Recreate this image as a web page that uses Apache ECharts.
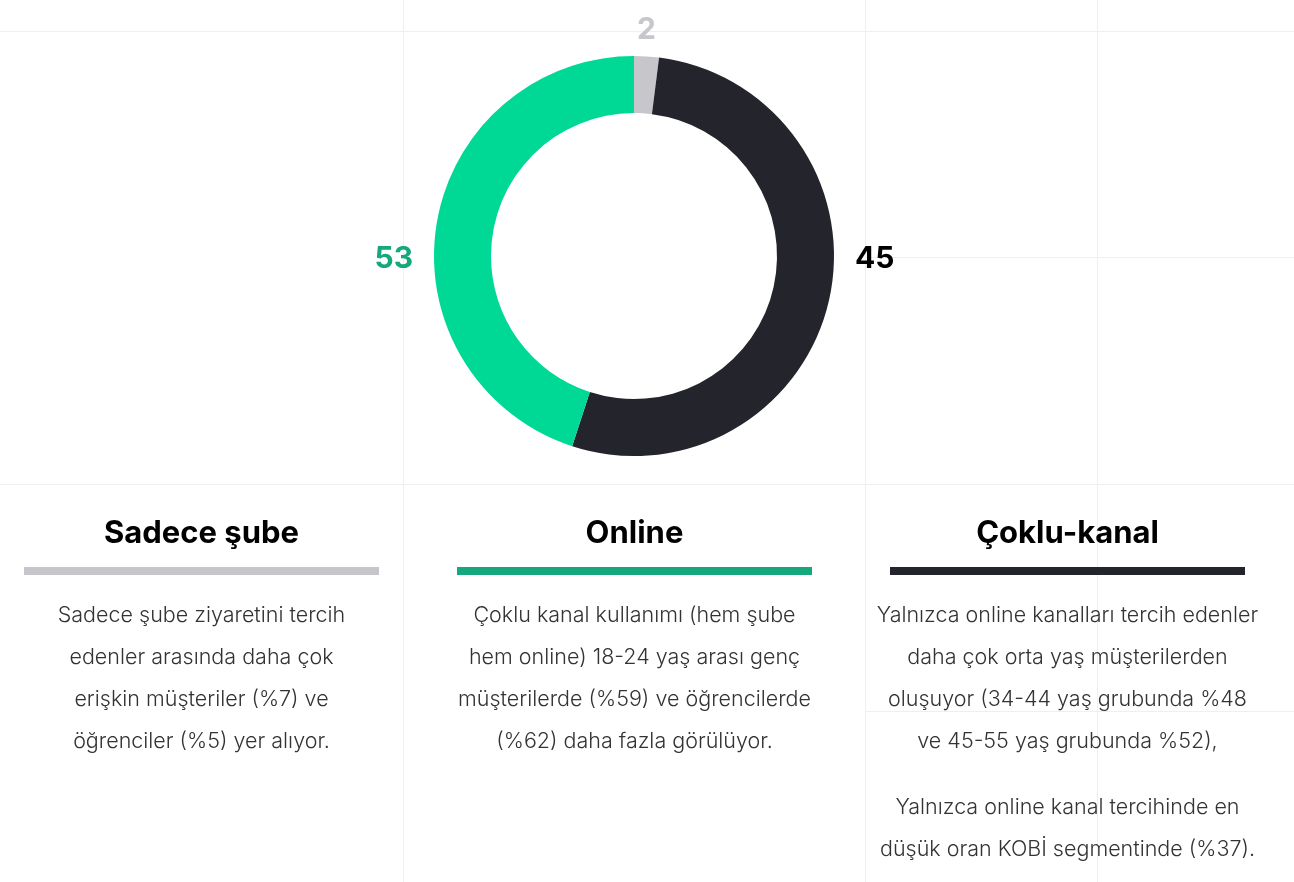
<!DOCTYPE html>
<html>
<head>
<meta charset="utf-8">
<title>Kanal tercihi</title>
<script src="https://cdn.jsdelivr.net/npm/echarts@6/dist/echarts.min.js"></script>
<style>
    html, body { margin: 0; padding: 0; background: #fff; }
    #main { width: 1294px; height: 882px; }
</style>
</head>
<body>
<div id="main"></div>
<script>
// halka dilimleri, saat yönünde tepeden başlayarak (resimde çizildiği gibi)
var sliceNames  = ['Sadece şube', 'Çoklu-kanal', 'Online'];
var sliceValues = [2, 53, 45];
var sliceColors = ['#c7c7cb', '#24242c', '#00d896'];
// halkanın yanında yazan sayılar
var sliceLabels = ['2', '45', '53'];
var labelColors = ['#c7c7cb', '#000000', '#14a87c'];

// alt kısımdaki başlıklar ve açıklamalar
var headings   = ['Sadece şube', 'Online', 'Çoklu-kanal'];
var barColors  = ['#c6c6ca', '#14a87c', '#24242c'];
var notes = [
    ['Sadece şube ziyaretini tercih', 'edenler arasında daha çok', 'erişkin müşteriler (%7) ve', 'öğrenciler (%5) yer alıyor.'],
    ['Çoklu kanal kullanımı (hem şube', 'hem online) 18-24 yaş arası genç', 'müşterilerde (%59) ve öğrencilerde', '(%62) daha fazla görülüyor.'],
    ['Yalnızca online kanalları tercih edenler', 'daha çok orta yaş müşterilerden', 'oluşuyor (34-44 yaş grubunda %48', 've 45-55 yaş grubunda %52),']
];
var extraNote = ['Yalnızca online kanal tercihinde en', 'düşük oran KOBİ segmentinde (%37).'];

var CX = 634, CY = 256;
var colCenters = [201.5, 634.5, 1067.5];
var bodyFont = '300 21.5px Inter';

var myChart = echarts.init(document.getElementById('main'));

// arka plandaki ızgara çizgileri
var gridColor = '#efeff0';
var graphics = [];
function addLine(x1, y1, x2, y2) {
    graphics.push({
        type: 'line', z: 0, silent: true,
        shape: { x1: x1, y1: y1, x2: x2, y2: y2 },
        style: { stroke: gridColor, lineWidth: 1 }
    });
}
addLine(403.5, 0, 403.5, 882);
addLine(865.5, 0, 865.5, 882);
addLine(1097.5, 0, 1097.5, 882);
addLine(0, 31.5, 1294, 31.5);
addLine(865, 257.5, 1294, 257.5);
addLine(0, 484.5, 1294, 484.5);
addLine(865, 711.5, 1294, 711.5);

// başlık, renk çubuğu, açıklama
headings.forEach(function (h, i) {
    var cx = colCenters[i];
    graphics.push({
        type: 'text', z: 5,
        x: cx, y: 534,
        style: {
            text: h, fill: '#000',
            font: '700 31px Inter',
            align: 'center', verticalAlign: 'middle'
        }
    });
    graphics.push({
        type: 'rect', z: 5,
        shape: { x: cx - 177.5, y: 567, width: 355, height: 8 },
        style: { fill: barColors[i] }
    });
    graphics.push({
        type: 'text', z: 5,
        x: cx, y: 595,
        style: {
            text: notes[i].join('\n'), fill: '#333',
            font: bodyFont, lineHeight: 42,
            align: 'center', verticalAlign: 'top'
        }
    });
});
graphics.push({
    type: 'text', z: 5,
    x: colCenters[2], y: 787,
    style: {
        text: extraNote.join('\n'), fill: '#333',
        font: bodyFont, lineHeight: 42,
        align: 'center', verticalAlign: 'top'
    }
});

var option = {
    backgroundColor: '#fff',
    animation: false,
    graphic: graphics,
    series: [{
        name: 'Kanal',
        type: 'pie',
        center: [CX, CY],
        radius: [143, 200],
        startAngle: 90,
        clockwise: true,
        silent: true,
        avoidLabelOverlap: false,
        itemStyle: { borderWidth: 0 },
        label: {
            show: true,
            position: 'outside',
            fontFamily: 'Inter',
            fontWeight: 700,
            fontSize: 30,
            formatter: function (p) { return sliceLabels[p.dataIndex]; }
        },
        labelLine: { show: false },
        // sayıları halkanın üstüne, sağına ve soluna yerleştir
        labelLayout: function (p) {
            var r = p.rect;
            if (p.dataIndex === 0) {
                return { x: r.x + r.width / 2, y: r.y - 26, align: 'center', verticalAlign: 'middle' };
            } else if (p.dataIndex === 1) {
                return { x: r.x + r.width + 21, y: CY + 3, align: 'left', verticalAlign: 'middle' };
            }
            return { x: r.x - 21, y: CY + 3, align: 'right', verticalAlign: 'middle' };
        },
        data: sliceValues.map(function (v, i) {
            return {
                name: sliceNames[i],
                value: v,
                itemStyle: { color: sliceColors[i] },
                label: { color: labelColors[i] }
            };
        })
    }]
};

myChart.setOption(option);
</script>
</body>
</html>
